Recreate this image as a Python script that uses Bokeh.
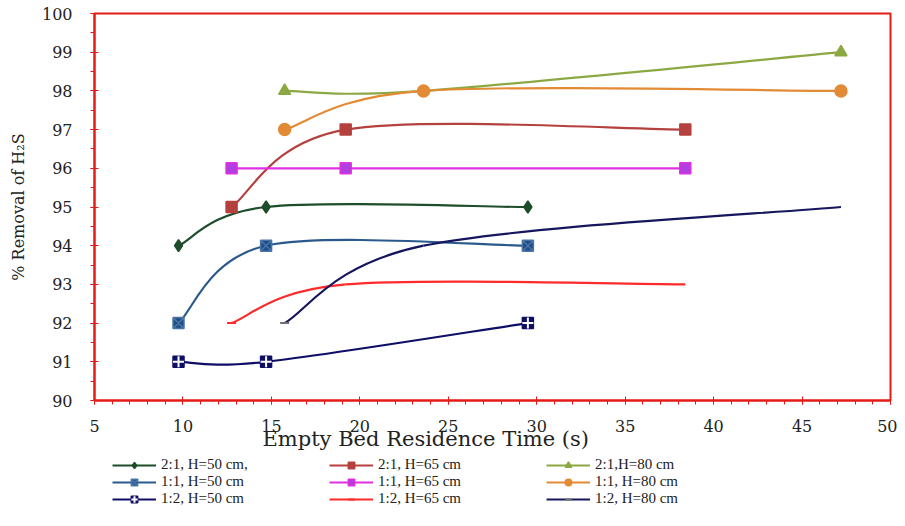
from bokeh.plotting import figure
from bokeh.models import (Legend, LegendItem, SingleIntervalTicker, Title)
from bokeh.layouts import column
from bokeh.embed import file_html
from bokeh.resources import INLINE

# Empty bed residence time (s) for each bed height
ebrt_h50 = [9.75, 14.7, 29.5]
ebrt_h65 = [12.75, 19.2, 38.4]
ebrt_h80 = [15.75, 23.6, 47.2]

# % removal of H2S
r21_h50 = [94, 95, 95]
r21_h65 = [95, 97, 97]
r21_h80 = [98, 98, 99]
r11_h50 = [92, 94, 94]
r11_h65 = [96, 96, 96]
r11_h80 = [97, 98, 98]
r12_h50 = [91, 91, 92]
r12_h65 = [92, 93, 93]
r12_h80 = [92, 94, 95]

x_ticks = [5, 10, 15, 20, 25, 30, 35, 40, 45, 50]
y_ticks = [90, 91, 92, 93, 94, 95, 96, 97, 98, 99, 100]

RED = "#E41B17"
SERIF = "DejaVu Serif"
LSERIF = "Liberation Serif"

p = figure(width=897, height=450, x_range=(5, 50), y_range=(90, 100),
           output_backend="svg", toolbar_location=None,
           min_border_left=94, min_border_right=7, min_border_top=13,
           min_border_bottom=50)
p.xgrid.visible = False
p.ygrid.visible = False
p.outline_line_color = RED
p.outline_line_width = 2
p.background_fill_color = "white"

p.xaxis.ticker = SingleIntervalTicker(interval=5, num_minor_ticks=5)
p.yaxis.ticker = SingleIntervalTicker(interval=1, num_minor_ticks=2)
for ax in (p.xaxis, p.yaxis):
    ax.axis_line_color = RED
    ax.axis_line_width = 2
    ax.major_tick_line_color = RED
    ax.minor_tick_line_color = RED
    ax.major_tick_in = 4
    ax.major_tick_out = 4
    ax.minor_tick_in = 0
    ax.minor_tick_out = 4
    ax.major_label_text_font = SERIF
    ax.major_label_text_font_size = "16px"
    ax.major_label_text_color = "#222222"
p.xaxis.major_label_standoff = 15
p.yaxis.major_label_standoff = 18
p.yaxis.axis_label = "% Removal of H\u2082S"
p.yaxis.axis_label_text_font = SERIF
p.yaxis.axis_label_text_font_size = "16px"
p.yaxis.axis_label_text_font_style = "normal"
p.yaxis.axis_label_standoff = 11
p.yaxis.axis_label_text_color = "#222222"


def smooth(xs, ys):
    n = len(xs)
    out = dict(x0=[], y0=[], x1=[], y1=[], cx0=[], cy0=[], cx1=[], cy1=[])
    for i in range(n - 1):
        a = max(i - 1, 0)
        b = min(i + 2, n - 1)
        out["x0"].append(xs[i]); out["y0"].append(ys[i])
        out["x1"].append(xs[i + 1]); out["y1"].append(ys[i + 1])
        out["cx0"].append(xs[i] + (xs[i + 1] - xs[a]) / 6)
        out["cy0"].append(ys[i] + (ys[i + 1] - ys[a]) / 6)
        out["cx1"].append(xs[i + 1] - (xs[b] - xs[i]) / 6)
        out["cy1"].append(ys[i + 1] - (ys[b] - ys[i]) / 6)
    return out


series = [
    ("2:1, H=50 cm,", ebrt_h50, r21_h50, "#1E4D2B", [("diamond", "#1E4D2B", "#1E4D2B", 12)]),
    ("2:1, H=65 cm", ebrt_h65, r21_h65, "#B5413F", [("square", "#B5413F", "#B5413F", 11)]),
    ("2:1,H=80 cm", ebrt_h80, r21_h80, "#8CA843", [("triangle", "#8CA843", "#8CA843", 12)]),
    ("1:1, H=50 cm", ebrt_h50, r11_h50, "#2A5A8C", [("square_x", "#1F4E85", "#4A74A8", 11)]),
    ("1:1, H=65 cm", ebrt_h65, r11_h65, "#E030E0", [("square", "#B03EE0", "#E030E0", 11)]),
    ("1:1, H=80 cm", ebrt_h80, r11_h80, "#E38A35", [("circle", "#E38A35", "#E38A35", 12)]),
    ("1:2, H=50 cm", ebrt_h50, r12_h50, "#0E0E66", [("square", "#0E0E66", "#0E0E66", 11),
                                                     ("cross", None, "white", 11)]),
    ("1:2, H=65 cm", ebrt_h65, r12_h65, "#FF2A2A", [("dash", None, "#FF2A2A", 9)]),
    ("1:2, H=80 cm", ebrt_h80, r12_h80, "#16165E", [("dash", None, "#707070", 9)]),
]

# legend strip: a second, axis-less figure holding the legend
q = figure(width=897, height=68, output_backend="svg", toolbar_location=None,
           x_axis_location=None, y_axis_location=None,
           min_border_left=94, min_border_right=7, min_border_top=0,
           min_border_bottom=0)
q.xgrid.visible = False
q.ygrid.visible = False
q.outline_line_alpha = 0


def add_series(fig, xs, ys, color, markers, label, visible=True):
    rs = []
    d = smooth(xs, ys)
    rs.append(fig.bezier(x0=d["x0"], y0=d["y0"], x1=d["x1"], y1=d["y1"],
                         cx0=d["cx0"], cy0=d["cy0"], cx1=d["cx1"], cy1=d["cy1"],
                         line_color=color, line_width=2.2))
    for mk, fill, line, size in markers:
        if label in ("1:2, H=65 cm", "1:2, H=80 cm"):
            mx, my = xs[:1], ys[:1]
        elif label == "2:1,H=80 cm":
            mx, my = [xs[0], xs[2]], [ys[0], ys[2]]
        else:
            mx, my = xs, ys
        kw = dict(marker=mk, size=size, line_color=line, line_width=1.5)
        if fill is None:
            kw["fill_alpha"] = 0
            kw["line_width"] = 2
        else:
            kw["fill_color"] = fill
        rs.append(fig.scatter(mx, my, **kw))
    for r in rs:
        r.visible = visible
    return rs


items = []
for label, xs, ys, color, markers in series:
    add_series(p, xs, ys, color, markers, label)
    rs = add_series(q, xs, ys, color, markers, label, visible=False)
    items.append(LegendItem(label=label, renderers=rs))

p.add_layout(Title(text="Empty Bed Residence Time (s)", align="left", offset=168,
                   text_font=SERIF, text_font_size="21px", text_font_style="normal",
                   text_color="#222222", standoff=-19), "below")

legend = Legend(items=items, orientation="horizontal", ncols=3, location=(17, 10),
                label_text_font=LSERIF, label_text_font_size="15px",
                label_text_color="#222222",
                glyph_width=44, glyph_height=16, label_height=16, label_width=168,
                label_standoff=5, spacing=0, padding=1, margin=0,
                border_line_alpha=0, background_fill_alpha=0)
q.add_layout(legend, "center")

open("out.html", "w").write(file_html(column(p, q, spacing=0), INLINE))
